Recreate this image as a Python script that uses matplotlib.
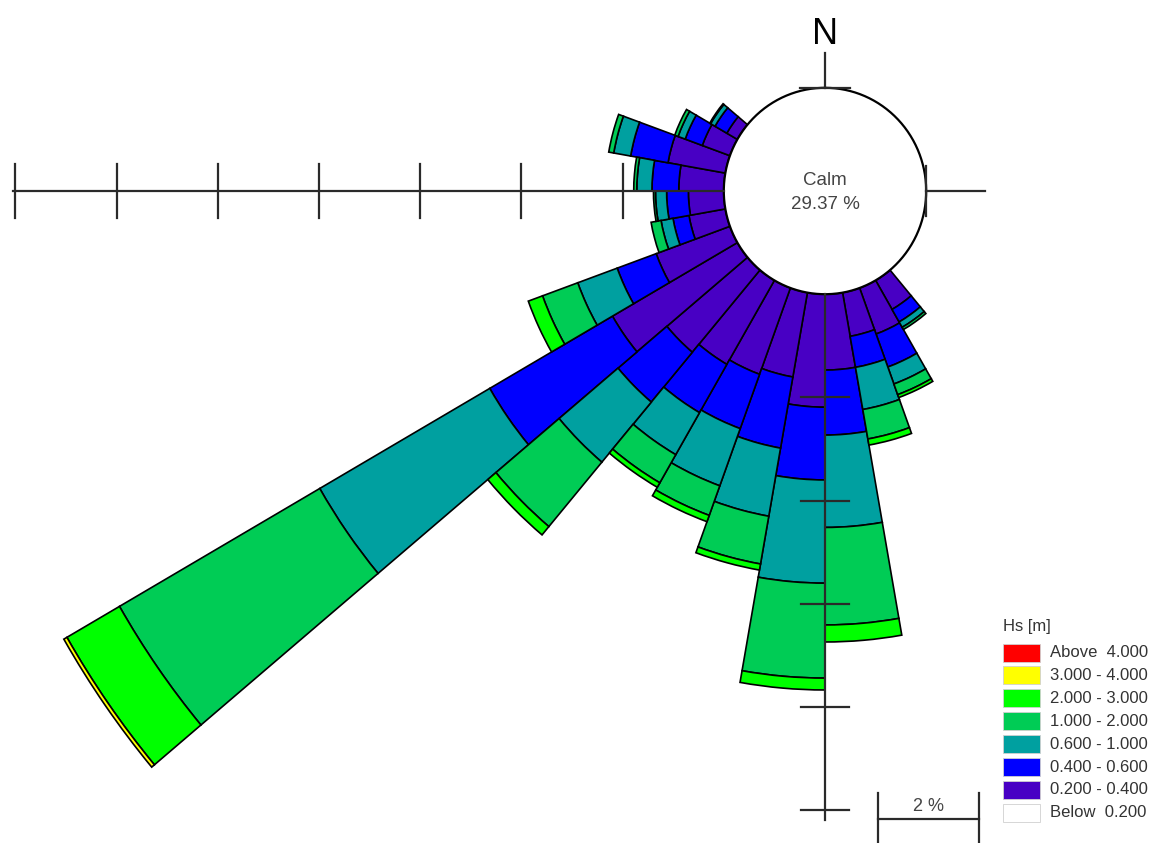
import numpy as np
import matplotlib
matplotlib.use('Agg')
import matplotlib.pyplot as plt
from matplotlib.patches import Rectangle

plt.rcParams['font.family'] = ['Liberation Sans', 'DejaVu Sans']

# ---------------- data ----------------
directions = [145, 155, 165, 175, 185, 195, 205, 215, 225, 235, 245, 255, 265, 275, 285, 295, 305]
sector_width = 10

hs_020_040 = [0.65, 0.95, 0.86, 1.47, 2.19, 1.66, 1.78, 1.88, 2.08, 2.85, 1.55, 0.73, 0.70, 0.89, 1.15, 0.58, 0.24]
hs_040_060 = [0.28, 0.68, 0.61, 1.26, 1.41, 1.40, 1.12, 1.08, 1.26, 2.80, 0.82, 0.32, 0.43, 0.53, 0.75, 0.36, 0.27]
hs_060_100 = [0.12, 0.35, 0.83, 1.79, 2.00, 1.34, 1.18, 0.94, 1.52, 3.88, 0.83, 0.24, 0.22, 0.30, 0.34, 0.15, 0.10]
hs_100_200 = [0.05, 0.22, 0.58, 1.89, 1.84, 0.94, 0.61, 0.63, 1.63, 4.57, 0.74, 0.20, 0.04, 0.06, 0.10, 0.07, 0.02]
hs_200_300 = [0.00, 0.06, 0.12, 0.33, 0.23, 0.12, 0.13, 0.10, 0.21, 1.20, 0.30, 0.00, 0.00, 0.00, 0.00, 0.00, 0.00]
hs_300_400 = [0.00, 0.00, 0.00, 0.00, 0.00, 0.00, 0.00, 0.00, 0.00, 0.07, 0.00, 0.00, 0.00, 0.00, 0.00, 0.00, 0.00]
hs_above_400 = [0.00, 0.00, 0.00, 0.00, 0.00, 0.00, 0.00, 0.00, 0.00, 0.00, 0.00, 0.00, 0.00, 0.00, 0.00, 0.00, 0.00]
calm_pct = 29.37

legend_title = "Hs [m]"
legend_labels = ["Above  4.000", "3.000 - 4.000", "2.000 - 3.000", "1.000 - 2.000",
                 "0.600 - 1.000", "0.400 - 0.600", "0.200 - 0.400", "Below  0.200"]
legend_colors = ["#FF0000", "#FFFF00", "#00FF00", "#00CC55",
                 "#00A0A0", "#0000FF", "#4800C4", "#FFFFFF"]

series = [hs_020_040, hs_040_060, hs_060_100, hs_100_200, hs_200_300, hs_300_400, hs_above_400]
series_colors = ["#4800C4", "#0000FF", "#00A0A0", "#00CC55", "#00FF00", "#FFFF00", "#FF0000"]

west_ticks = [2, 4, 6, 8, 10, 12, 14]
south_ticks = [2, 4, 6, 8, 10]
scale_bar_pct = 2

# ---------------- layout ----------------
W, H = 1158, 843
cx_px, cy_px = 825, 191
sx, sy = 50.6, 51.6
r_calm = 2.0
r_max = 16.0
R = r_calm + r_max

fig = plt.figure(figsize=(W / 100, H / 100), dpi=100)
fig.patch.set_facecolor('white')
box = [(cx_px - R * sx) / W, (H - cy_px - R * sy) / H, 2 * R * sx / W, 2 * R * sy / H]

ax = fig.add_axes(box, projection='polar')
ax.set_theta_zero_location('N')
ax.set_theta_direction(-1)
ax.set_ylim(0, r_max)
ax.set_rorigin(-r_calm)
ax.set_aspect('auto')
ax.set_axis_off()

theta = np.deg2rad(directions)
bottom = np.zeros(len(directions))
for vals, col in zip(series, series_colors):
    v = np.array(vals, dtype=float)
    m = v > 0
    if m.any():
        ax.bar(theta[m], v[m], width=np.deg2rad(sector_width), bottom=bottom[m],
               color=col, edgecolor='black', linewidth=1.2, align='center', zorder=2)
    bottom += v

circ = np.linspace(0, 2 * np.pi, 500)
ax.plot(circ, np.zeros_like(circ), color='black', lw=1.6, clip_on=False, zorder=3)

# ---------------- overlay: axes lines, ticks, texts ----------------
ox = fig.add_axes(box)
ox.set_xlim(-R, R)
ox.set_ylim(-R, R)
ox.set_axis_off()
lc = '#2a2a2a'
lw = 1.6
ox.plot([-r_calm, -(r_calm + 14.05)], [0, 0], color=lc, lw=lw)
ox.plot([r_calm, r_calm + 1.16], [0, 0], color=lc, lw=lw)
ox.plot([0, 0], [r_calm, r_calm + 0.68], color=lc, lw=lw)
ox.plot([0, 0], [-r_calm, -(r_calm + 10.19)], color=lc, lw=lw)
for t in west_ticks:
    ox.plot([-(r_calm + t)] * 2, [-0.52, 0.52], color=lc, lw=lw)
for t in south_ticks:
    ox.plot([-0.47, 0.47], [-(r_calm + t)] * 2, color=lc, lw=lw)
ox.plot([-0.49, 0.49], [r_calm, r_calm], color=lc, lw=lw)
ox.plot([r_calm, r_calm], [-0.48, 0.48], color=lc, lw=lw)

ox.text(0, 0.21, "Calm", ha='center', va='center', fontsize=13.5, color='#444444')
ox.text(0, -0.27, f"{calm_pct:.2f} %", ha='center', va='center', fontsize=13.5, color='#444444')
ox.text(0, 3.04, "N", ha='center', va='center', fontsize=26, color='black')

# scale bar
sb_x0 = 1.05
sb_y = -12.17
ox.plot([sb_x0, sb_x0 + scale_bar_pct], [sb_y, sb_y], color=lc, lw=lw, clip_on=False)
ox.plot([sb_x0, sb_x0], [-11.67, -13.3], color=lc, lw=lw, clip_on=False)
ox.plot([sb_x0 + scale_bar_pct] * 2, [-11.67, -13.3], color=lc, lw=lw, clip_on=False)
ox.text(sb_x0 + scale_bar_pct / 2, -11.93, f"{scale_bar_pct} %", ha='center', va='center',
        fontsize=13, color='#444444')

# ---------------- legend ----------------
lx = fig.add_axes([0, 0, 1, 1])
lx.set_xlim(0, W)
lx.set_ylim(H, 0)
lx.set_axis_off()
lx.text(1003, 627, legend_title, ha='left', va='center', fontsize=12, color='#333333')
row0 = 652.5
dy = 22.9
for i, (lab, col) in enumerate(zip(legend_labels, legend_colors)):
    yc = row0 + i * dy
    lx.add_patch(Rectangle((1003, yc - 9), 37, 18, facecolor=col, edgecolor='#d0d0d0', lw=0.6))
    lx.text(1050, yc, lab, ha='left', va='center', fontsize=12, color='#333333')

fig.savefig('out.png', dpi=100)
